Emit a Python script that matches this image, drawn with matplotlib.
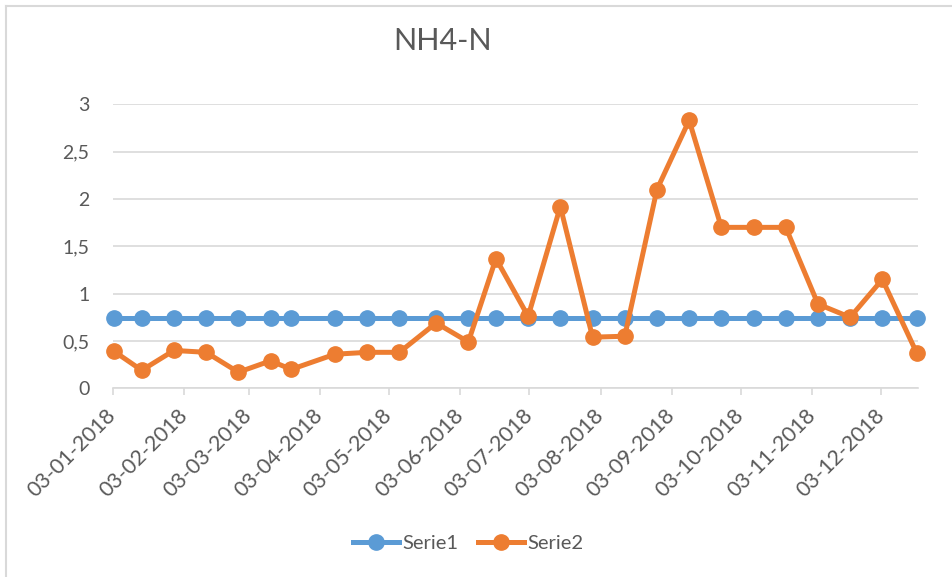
import pandas as pd
import matplotlib
matplotlib.use("Agg")
import matplotlib.pyplot as plt
import matplotlib.dates as mdates
from matplotlib.lines import Line2D

# sample dates (day-month-year) and measured values
dates = ["03-01-2018", "15-01-2018", "29-01-2018", "12-02-2018", "26-02-2018",
         "12-03-2018", "21-03-2018", "09-04-2018", "23-04-2018", "07-05-2018",
         "23-05-2018", "06-06-2018", "18-06-2018", "02-07-2018", "16-07-2018",
         "30-07-2018", "13-08-2018", "27-08-2018", "10-09-2018", "24-09-2018",
         "08-10-2018", "22-10-2018", "05-11-2018", "19-11-2018", "03-12-2018",
         "18-12-2018"]
serie1 = [0.74, 0.74, 0.74, 0.74, 0.74, 0.74, 0.74, 0.74, 0.74, 0.74,
          0.74, 0.74, 0.74, 0.74, 0.74, 0.74, 0.74, 0.74, 0.74, 0.74,
          0.74, 0.74, 0.74, 0.74, 0.74, 0.74]
serie2 = [0.39, 0.19, 0.40, 0.38, 0.17, 0.29, 0.20, 0.36, 0.38, 0.38,
          0.69, 0.49, 1.37, 0.76, 1.92, 0.54, 0.55, 2.10, 2.83, 1.70,
          1.70, 1.70, 0.89, 0.75, 1.15, 0.37]
yticks = [0, 0.5, 1, 1.5, 2, 2.5, 3]
ytick_labels = ["0", "0,5", "1", "1,5", "2", "2,5", "3"]
month_ticks = ["03-01-2018", "03-02-2018", "03-03-2018", "03-04-2018",
               "03-05-2018", "03-06-2018", "03-07-2018", "03-08-2018",
               "03-09-2018", "03-10-2018", "03-11-2018", "03-12-2018"]

plt.rcParams["font.family"] = ["Lato", "DejaVu Sans"]
txt = "#595959"
grid = "#D9D9D9"

d = pd.to_datetime(dates, format="%d-%m-%Y")
# excel date axis puts each point in the middle of its day
x = d + pd.Timedelta(hours=12)
ticks = pd.to_datetime(month_ticks, format="%d-%m-%Y")

fig = plt.figure(figsize=(9.52, 5.77), dpi=100)
ax = fig.add_axes([113 / 952, 1 - 388.3 / 577, (918 - 113) / 952, (388.3 - 104.3) / 577])

ax.plot(x, serie1, color="#5B9BD5", lw=3.6, marker="o", ms=11, label="Serie1",
        clip_on=False, zorder=3)
ax.plot(x, serie2, color="#ED7D31", lw=3.6, marker="o", ms=11, label="Serie2",
        clip_on=False, zorder=4)

ax.set_xlim(d[0], d[-1] + pd.Timedelta(days=1))
ax.set_ylim(0, 3)
ax.set_yticks(yticks)
ax.set_yticklabels(ytick_labels)
ax.set_xticks(ticks)
ax.xaxis.set_major_formatter(mdates.DateFormatter("%d-%m-%Y"))

for s in ["top", "right", "left"]:
    ax.spines[s].set_visible(False)
ax.spines["bottom"].set_color(grid)
ax.spines["bottom"].set_linewidth(1.2)
ax.grid(axis="y", color=grid, lw=1.2)
ax.set_axisbelow(True)

ax.tick_params(axis="y", length=0, pad=17, labelsize=14, labelcolor=txt)
ax.tick_params(axis="x", length=5, width=1.2, color=grid, pad=12,
               labelsize=15.5, labelcolor=txt)
for lab in ax.get_xticklabels():
    lab.set_rotation(45)
    lab.set_ha("right")
    lab.set_va("center")
    lab.set_rotation_mode("anchor")

fig.text(443 / 952, 1 - 41 / 577, "NH4-N", ha="center", va="center",
         fontsize=22, color=txt)

fig.legend(loc="center", bbox_to_anchor=(468 / 952, 1 - 543 / 577), ncol=2,
           frameon=False, fontsize=14.5, labelcolor=txt, handlelength=2.3,
           handletextpad=0.15, columnspacing=1.0)

# chart border (only left and top visible in the crop)
fig.add_artist(Line2D([6 / 952, 6 / 952], [0, 1 - 6 / 577], transform=fig.transFigure,
                      color=grid, lw=1.5))
fig.add_artist(Line2D([6 / 952, 1], [1 - 6 / 577, 1 - 6 / 577], transform=fig.transFigure,
                      color=grid, lw=1.5))

fig.savefig("out.png", dpi=100)
